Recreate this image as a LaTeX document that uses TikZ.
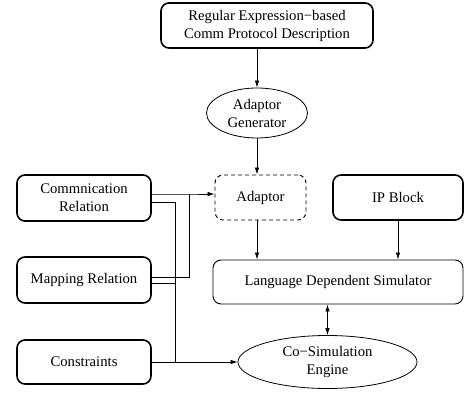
\documentclass[tikz,border=0pt]{standalone}
\usepackage{fontspec}
\setmainfont{Liberation Serif}
\usetikzlibrary{shapes.geometric,arrows.meta}

\begin{document}
\begin{tikzpicture}[x=1pt,y=-1pt,
  font=\fontsize{14.7}{18}\selectfont,
  >={Latex[length=7pt,width=4.5pt]},
  box/.style={draw,rounded corners=8pt,line width=1.6pt,align=center,inner sep=0pt},
  thinbox/.style={draw,rounded corners=8pt,line width=0.9pt,align=center,inner sep=0pt},
  oval/.style={draw,ellipse,line width=0.8pt,align=center,inner sep=0pt},
  wire/.style={line width=0.8pt}]
  \useasboundingbox (0,0) rectangle (464,396);

  % inputs on the left
  \node[box,minimum width=134,minimum height=46] (comm) at (84,198) {Commnication\\Relation};
  \node[box,minimum width=134,minimum height=46] (map) at (84,280) {Mapping Relation};
  \node[box,minimum width=134,minimum height=44] (cons) at (84,362) {Constraints};

  % main flow
  \node[box,minimum width=212,minimum height=45] (desc) at (267,25.5) {Regular Expression−based\\Comm Protocol Description};
  \node[oval,minimum width=101,minimum height=50] (gen) at (257,113) {Adaptor\\Generator};
  \node[thinbox,dash pattern=on 4pt off 3pt,minimum width=91,minimum height=45] (adaptor) at (260.5,197.5) {Adaptor};
  \node[box,minimum width=130,minimum height=45] (ip) at (398,197.5) {IP Block};
  \node[thinbox,minimum width=250,minimum height=44] (lds) at (338,282) {Language Dependent Simulator};
  \node[oval,minimum width=179,minimum height=53] (cosim) at (327.5,362) {Co−Simulation\\Engine};

  \coordinate (busA) at (189,194);
  \coordinate (busB) at (175,362);

  \draw[wire,->] (gen.north |- desc.south) -- (gen.north);
  \draw[wire,->] (gen.south) -- (gen.south |- adaptor.north);
  \draw[wire,->] (gen.south |- adaptor.south) -- (gen.south |- lds.north);
  \draw[wire,->] (ip.south) -- (ip.south |- lds.north);
  \draw[wire,<->] (cosim.north |- lds.south) -- (cosim.north);

  % wiring from the left
  \draw[wire,->] ([yshift=4pt]comm.east) -- (busA) -- (busA -| adaptor.west);
  \draw[wire] ([yshift=3pt]map.east) -| (busA);
  \draw[wire] ([yshift=-4pt]comm.east) -| (busB);
  \draw[wire] ([yshift=-3pt]map.east) -- ([yshift=-3pt]map.east -| busB);
  \draw[wire,->] (cons.east) -- (cosim.west);
\end{tikzpicture}
\end{document}
